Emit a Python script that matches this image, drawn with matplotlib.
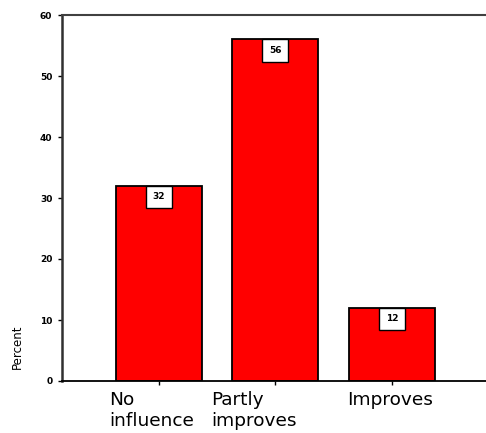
import numpy as np
import matplotlib.pyplot as plt
import matplotlib.transforms as mtrans

# answer categories and their share in percent
categories = ['No\ninfluence', 'Partly\nimproves', 'Improves']
percent = [32, 56, 12]

fig = plt.figure(figsize=(4.86, 4.33), dpi=100)
ax = fig.add_axes([62 / 486, 52 / 433, 1 - 62 / 486, 366 / 433])

x = np.arange(len(categories))
ax.bar(x, percent, width=0.74, color='#ff0000', edgecolor='black', linewidth=1.3)

# value boxes hanging from the top of each bar
for xi, v in zip(x, percent):
    ax.annotate(str(v), xy=(xi, v), xytext=(0, -4.8), textcoords='offset points',
                ha='center', va='top', fontsize=6.5, fontweight='bold',
                bbox=dict(boxstyle='square,pad=0.75', fc='white', ec='black', lw=1.0))

ax.set_xlim(-0.83, 2.807)
ax.set_ylim(0, 60)
ax.set_yticks(range(0, 61, 10))
ax.tick_params(axis='y', length=3, width=1, pad=4, labelsize=6.5)
for lab in ax.get_yticklabels():
    lab.set_fontweight('bold')

ax.set_xticks(x)
ax.set_xticklabels(categories, fontsize=13.3, ha='left', linespacing=1.2)
ax.tick_params(axis='x', length=3, width=1, pad=4)
shifts = [-50, -64, -45]
for lab, dx in zip(ax.get_xticklabels(), shifts):
    lab.set_transform(lab.get_transform() + mtrans.ScaledTranslation(dx / 100, 0, fig.dpi_scale_trans))

ax.spines['right'].set_visible(False)
ax.spines['left'].set_linewidth(1.8)
ax.spines['left'].set_color('#303030')
ax.spines['top'].set_linewidth(1.5)
ax.spines['top'].set_color('#404040')
ax.spines['bottom'].set_linewidth(1.3)

fig.text(17 / 486, 1 - 347 / 433, 'Percent', rotation=90, ha='center', va='center', fontsize=8.5)

fig.savefig('out.png', dpi=100)
